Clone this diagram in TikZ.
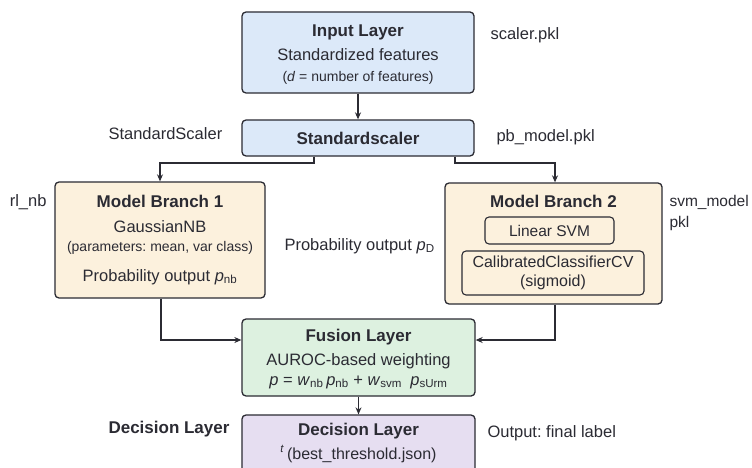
\documentclass[tikz,border=0pt]{standalone}
\usepackage{fontspec}
\setmainfont{Liberation Sans}
\usetikzlibrary{arrows.meta}
\frenchspacing

\definecolor{inkgray}{HTML}{2B2B33}
\definecolor{inputblue}{HTML}{DCE9F9}
\definecolor{branchtan}{HTML}{FCF1DD}
\definecolor{fusiongreen}{HTML}{DDF1E0}
\definecolor{decisionlilac}{HTML}{E6DEF1}

\newcommand{\sbt}[1]{\textsubscript{#1}}

\tikzset{
  layerbox/.style={draw=inkgray, line width=1.3pt, rounded corners=4pt, inner sep=0pt},
  innerbox/.style={draw=inkgray, line width=1.1pt, rounded corners=4pt, inner sep=0pt, fill=branchtan},
  wire/.style={draw=inkgray, line width=1.1pt},
  flow/.style={wire, -{Stealth[length=7pt,width=6pt]}},
  boxtitle/.style={font=\fontsize{17}{20}\selectfont\bfseries},
  smalltext/.style={font=\fontsize{14}{17}\selectfont},
}

\begin{document}
\begin{tikzpicture}[x=1pt,y=1pt,yscale=-1,font=\fontsize{16.5}{19}\selectfont,text=inkgray]
\useasboundingbox (0,0) rectangle (752,468);
\clip (0,0) rectangle (752,468);
\fill[white] (0,0) rectangle (752,468);

%Shape: Rectangle [input]
\node[layerbox, fill=inputblue, minimum width=232pt, minimum height=81pt] (input) at (358,52.5) {};
%Shape: Rectangle [standardscaler]
\node[layerbox, fill=inputblue, minimum width=232pt, minimum height=36pt] (std) at (358,138) {};
%Shape: Rectangle [branch 1]
\node[layerbox, fill=branchtan, minimum width=210pt, minimum height=116pt] (mb1) at (160,240) {};
%Shape: Rectangle [branch 2]
\node[layerbox, fill=branchtan, minimum width=217pt, minimum height=121pt] (mb2) at (553.5,243.5) {};
\node[innerbox, minimum width=129pt, minimum height=27pt] (lsvm) at (549.5,230.5) {};
\node[innerbox, minimum width=182pt, minimum height=44pt] (calib) at (553,273) {};
%Shape: Rectangle [fusion]
\node[layerbox, fill=fusiongreen, minimum width=233pt, minimum height=77pt] (fusion) at (358.5,357.5) {};
%Shape: Rectangle [decision]
\node[layerbox, fill=decisionlilac, minimum width=233pt, minimum height=70pt] (decision) at (358.5,450) {};

%Straight Lines
\draw[flow] (input) -- (std);
\coordinate (splitL) at (314,163);
\coordinate (splitR) at (455,163);
\coordinate (dropR) at (555,163);
\draw[flow] (splitL |- std.south) -- (splitL) -- (splitL -| mb1.north) -- (mb1.north);
\draw[flow] (splitR |- std.south) -- (splitR) -- (dropR) -- (dropR |- mb2.north);
\coordinate (joinL) at (161,340);
\coordinate (joinR) at (555,340);
\draw[flow] (joinL |- mb1.south) -- (joinL) -- (joinL -| fusion.west);
\draw[flow] (joinR |- mb2.south) -- (joinR) -- (joinR -| fusion.east);
\draw[flow] (fusion) -- (decision);

% Text Node
\node[boxtitle] (inputT) at (358,32) {Input Layer};
\node (inputA) at (358,55) {Standardized features};
\node[smalltext] (inputB) at (358,78) {(\textit{d} = number of features)};
\node[boxtitle] (stdT) at (358,138) {Standardscaler};
% Text Node
\node[boxtitle] (mb1T) at (160,201) {Model Branch 1};
\node (mb1A) at (160,227) {GaussianNB};
\node[smalltext] (mb1B) at (160,248) {(parameters: mean, var class)};
\node (mb1C) at (160,277) {Probability output \textit{p}\sbt{nb}};
% Text Node
\node[boxtitle] (mb2T) at (553.5,201) {Model Branch 2};
\node[font=\fontsize{15.5}{18}\selectfont] (lsvmT) at (lsvm) {Linear SVM};
\node[align=center, font=\fontsize{16}{19}\selectfont] (calibT) at (calib) {CalibratedClassifierCV\\(sigmoid)};
% Text Node
\node[boxtitle] (fusionT) at (358.5,337) {Fusion Layer};
\node (fusionA) at (358.5,361) {AUROC-based weighting};
\node (fusionB) at (358.5,382) {\textit{p} = \textit{w}\sbt{nb}\,\textit{p}\sbt{nb} + \textit{w}\sbt{svm}\enspace\textit{p}\sbt{sUrm}};
\node[boxtitle] (decisionT) at (358.5,431) {Decision Layer};
\node[font=\fontsize{16}{19}\selectfont] (decisionA) at (358.5,454) {\textsuperscript{\textit{t}}\,(best\_threshold.json)};

% Side labels
\node[anchor=west] (scalerF) at (487,35) {scaler.pkl};
\node[anchor=west] (pbF) at (493,137) {pb\_model.pkl};
\node[anchor=west] (stdL) at (105,134) {StandardScaler};
\node[anchor=east] (nbF) at (50,202) {rl\_nb};
\node[anchor=west, font=\fontsize{15.5}{18}\selectfont] (svmF) at (666,202) {svm\_model};
\node[anchor=west, font=\fontsize{15.5}{18}\selectfont] (svmG) at (666,223) {pkl};
\node[anchor=west] (probD) at (281,246) {Probability output \textit{p}\sbt{D}};
\node[boxtitle, anchor=west] (decL) at (105,429) {Decision Layer};
\node[anchor=west] (outL) at (484,433) {Output: final label};

\end{tikzpicture}
\end{document}
